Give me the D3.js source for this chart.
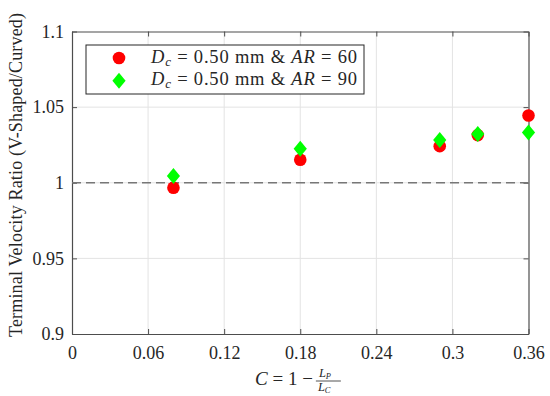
<!DOCTYPE html>
<html>
<head>
<meta charset="utf-8">
<script src="https://cdn.jsdelivr.net/npm/d3@7"></script>
<style>
  body { margin: 0; background: #fff; }
  svg text { font-family: "Liberation Serif", "DejaVu Serif", serif !important; fill: #262626; }
</style>
</head>
<body>
<svg id="chart" width="550" height="396"></svg>
<script>
// chart values
var cValues = [0.08, 0.18, 0.29, 0.32, 0.36];
var ratioAR60 = [0.9967, 1.0152, 1.0242, 1.0315, 1.0445];
var ratioAR90 = [1.0044, 1.0225, 1.0282, 1.0322, 1.0333];
var xTicks = [0, 0.06, 0.12, 0.18, 0.24, 0.3, 0.36];
var yTicks = [0.9, 0.95, 1, 1.05, 1.1];
var seriesNames = ["60", "90"];

var margin = {top: 31.5, right: 21.5, bottom: 62, left: 72},
    width = 550 - margin.left - margin.right,
    height = 396 - margin.top - margin.bottom;

var svg = d3.select("#chart");
var g = svg.append("g").attr("transform", "translate(" + margin.left + "," + margin.top + ")");

var x = d3.scaleLinear().domain([0, 0.36]).range([0, width]);
var y = d3.scaleLinear().domain([0.9, 1.1]).range([height, 0]);

// grid
g.append("g").selectAll("line").data(xTicks.slice(1, -1)).enter().append("line")
  .attr("x1", function(d) { return x(d); }).attr("x2", function(d) { return x(d); })
  .attr("y1", 0).attr("y2", height)
  .attr("stroke", "#e3e3e3").attr("stroke-width", 1);
g.append("g").selectAll("line").data(yTicks.slice(1, -1)).enter().append("line")
  .attr("y1", function(d) { return y(d); }).attr("y2", function(d) { return y(d); })
  .attr("x1", 0).attr("x2", width)
  .attr("stroke", "#e3e3e3").attr("stroke-width", 1);

// axes (ticks pointing inward, box on all sides)
var fmt = function(d) { return String(d); };
var xAxis = g.append("g").attr("transform", "translate(0," + height + ")")
  .call(d3.axisBottom(x).tickValues(xTicks).tickFormat(fmt).tickSizeInner(-5).tickSizeOuter(0).tickPadding(12));
var xTop = g.append("g")
  .call(d3.axisTop(x).tickValues(xTicks).tickFormat("").tickSizeInner(-5).tickSizeOuter(0));
var yAxis = g.append("g")
  .call(d3.axisLeft(y).tickValues(yTicks).tickFormat(fmt).tickSizeInner(-5).tickSizeOuter(0).tickPadding(8));
var yRight = g.append("g").attr("transform", "translate(" + width + ",0)")
  .call(d3.axisRight(y).tickValues(yTicks).tickFormat("").tickSizeInner(-5).tickSizeOuter(0));

[xAxis, xTop, yAxis, yRight].forEach(function(a) {
  a.attr("font-family", null);
  a.select(".domain").attr("stroke", "#4d4d4d").attr("stroke-width", 1.2);
  a.selectAll(".tick line").attr("stroke", "#4d4d4d").attr("stroke-width", 1);
  a.selectAll("text").attr("font-size", 18).attr("fill", "#262626");
});

// reference line at 1
g.append("line")
  .attr("x1", 0).attr("x2", width)
  .attr("y1", y(1)).attr("y2", y(1))
  .attr("stroke", "#777").attr("stroke-width", 1.6)
  .attr("stroke-dasharray", "9,5");

// series
var pts60 = cValues.map(function(c, i) { return [c, ratioAR60[i]]; });
var pts90 = cValues.map(function(c, i) { return [c, ratioAR90[i]]; });

g.append("g").selectAll("circle").data(pts60).enter().append("circle")
  .attr("cx", function(d) { return x(d[0]); })
  .attr("cy", function(d) { return y(d[1]); })
  .attr("r", 6.3)
  .attr("fill", "#ff0000");

var diamond = "M0,-8L6.6,0L0,8L-6.6,0Z";
g.append("g").selectAll("path").data(pts90).enter().append("path")
  .attr("transform", function(d) { return "translate(" + x(d[0]) + "," + y(d[1]) + ")"; })
  .attr("d", diamond)
  .attr("fill", "#00ff00");

// legend
var leg = svg.append("g").attr("transform", "translate(86,45)");
leg.append("rect").attr("width", 278).attr("height", 49)
  .attr("fill", "#fff").attr("stroke", "#262626").attr("stroke-width", 1);
seriesNames.forEach(function(name, i) {
  var row = leg.append("g").attr("transform", "translate(0," + (13 + i * 22.7) + ")");
  if (i === 0) {
    row.append("circle").attr("cx", 33).attr("cy", 0).attr("r", 6.3).attr("fill", "#ff0000");
  } else {
    row.append("path").attr("transform", "translate(33,0)").attr("d", diamond).attr("fill", "#00ff00");
  }
  var t = row.append("text").attr("x", 65).attr("y", 4.5).attr("font-size", 18.5)
    .attr("textLength", 206).attr("lengthAdjust", "spacing");
  t.append("tspan").attr("font-style", "italic").text("D");
  t.append("tspan").attr("font-style", "italic").attr("font-size", 13).attr("dy", 3).text("c");
  t.append("tspan").attr("dy", -3).text(" = 0.50 mm & ");
  t.append("tspan").attr("font-style", "italic").text("AR");
  t.append("tspan").text(" = " + name);
});

// axis labels
svg.append("text")
  .attr("transform", "translate(21.5,175) rotate(-90)")
  .attr("text-anchor", "middle")
  .attr("font-size", 18)
  .attr("textLength", 324).attr("lengthAdjust", "spacing")
  .text("Terminal Velocity Ratio (V-Shaped/Curved)");

var xl = svg.append("g").attr("transform", "translate(255,385)");
var xt = xl.append("text").attr("x", 0).attr("y", 0).attr("font-size", 19);
xt.append("tspan").attr("font-style", "italic").text("C");
xt.append("tspan").text(" = 1 \u2212");
var fx = xt.node().getComputedTextLength() + 3;
xl.append("line").attr("x1", fx).attr("x2", fx + 25).attr("y1", -4).attr("y2", -4)
  .attr("stroke", "#262626").attr("stroke-width", 0.8);
var num = xl.append("text").attr("x", fx + 3).attr("y", -8).attr("font-size", 12.5);
num.append("tspan").attr("font-style", "italic").text("L");
num.append("tspan").attr("font-style", "italic").attr("font-size", 8.5).attr("dy", 2).text("P");
var den = xl.append("text").attr("x", fx + 2).attr("y", 5.5).attr("font-size", 12.5);
den.append("tspan").attr("font-style", "italic").text("L");
den.append("tspan").attr("font-style", "italic").attr("font-size", 8.5).attr("dy", 2).text("C");
</script>
</body>
</html>
